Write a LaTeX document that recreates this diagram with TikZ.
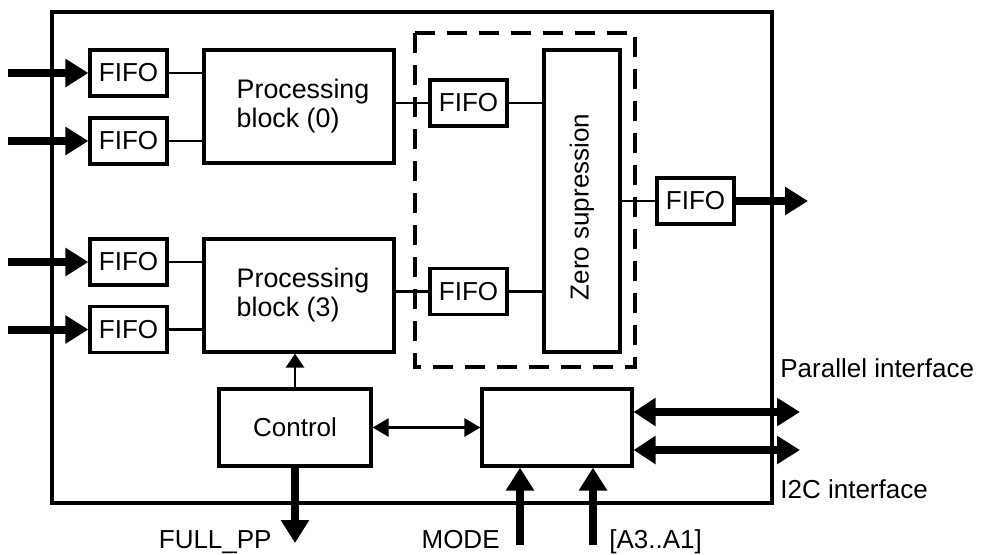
\documentclass[tikz,border=0pt]{standalone}
\usepackage{fontspec}
\setmainfont{Liberation Sans}
\usetikzlibrary{arrows.meta,positioning}

\begin{document}
\begin{tikzpicture}[x=0.5pt, y=-0.5pt]
\tikzset{box/.style={rectangle, draw, line width=1.6pt, inner sep=0pt, font=\fontsize{13}{15}\selectfont, align=center}}
\tikzset{fifo/.style={box, minimum width=38.5pt, minimum height=23pt}}
\tikzset{block/.style={box, minimum width=95pt, minimum height=56.5pt, align=left, font=\fontsize{13.4}{14.5}\selectfont}}
\tikzset{wire/.style={line width=1.3pt}}
\tikzset{arrow/.style={wire, -{Triangle[length=7pt, width=9pt]}}}
\tikzset{dblarrow/.style={wire, {Triangle[length=8pt, width=9pt]}-{Triangle[length=8pt, width=9pt]}}}
\tikzset{bus/.style={line width=4pt, -{Triangle[length=11.5pt, width=13.5pt]}}}
\tikzset{dblbus/.style={line width=4pt, {Triangle[length=11pt, width=13.5pt]}-{Triangle[length=11.5pt, width=13.5pt]}}}
\tikzset{iotext/.style={font=\fontsize{13}{15}\selectfont, inner sep=0pt}}

\useasboundingbox (0,0) rectangle (986,554);
\draw[line width=1.6pt] (52,12) rectangle (772,503);
\draw[line width=1.6pt, dash pattern=on 10pt off 6pt] (415,33) rectangle (635,367);

\node[fifo] (in0a) at (128.5,73) {FIFO};
\node[fifo] (in0b) at (128.5,141) {FIFO};
\node[fifo] (in3a) at (128.5,262) {FIFO};
\node[fifo] (in3b) at (128.5,329.5) {FIFO};
\node[block] (proc0) at (299,106.5) {\hspace{4pt}Processing\\\hspace{4pt}block (0)};
\node[block] (proc3) at (299,295.5) {\hspace{4pt}Processing\\\hspace{4pt}block (3)};
\node[fifo] (zin0) at (468.5,103) {FIFO};
\node[fifo] (zin3) at (468.5,291.5) {FIFO};
\node[box, minimum width=38pt, minimum height=151pt] (zero) at (582,201) {\rotatebox{90}{Zero supression\hspace{6pt}}};
\node[fifo] (out) at (695.5,201) {FIFO};
\node[box, minimum width=76pt, minimum height=38.5pt] (ctrl) at (295,427.5) {Control};
\node[box, minimum width=75pt, minimum height=38.5pt] (iface) at (557,427.5) {};

\foreach \f in {in0a,in0b,in3a,in3b} {
  \path (\f.west) ++(-80,0) coordinate (\f-src);
  \draw[bus] (\f-src) -- (\f.west);
}
\foreach \f/\p in {in0a/proc0,in0b/proc0,in3a/proc3,in3b/proc3}
  \draw[wire] (\f.east) -- (\f.east -| \p.west);

\draw[wire] (zin0.west -| proc0.east) -- (zin0.west);
\draw[wire] (zin3.west -| proc3.east) -- (zin3.west);
\draw[wire] (zin0.east) -- (zin0.east -| zero.west);
\draw[wire] (zin3.east) -- (zin3.east -| zero.west);
\draw[wire] (zero.east) -- (out.west);

\coordinate (dout) at (808,201);
\draw[bus] (out.east) -- (dout);

\draw[arrow] (ctrl.north) -- (ctrl.north |- proc3.south);
\draw[dblarrow] (ctrl) -- (iface);

\coordinate (fullpp) at (295,543);
\draw[bus] (ctrl.south) -- (fullpp);
\node[iotext, anchor=base east] (fullpplbl) at (272,548) {FULL\_PP};

\coordinate (mode) at (520,545);
\coordinate (addr) at (593,545);
\draw[bus] (mode) -- (mode |- iface.south);
\draw[bus] (addr) -- (addr |- iface.south);
\node[iotext, anchor=base east] (modelbl) at (500,548) {MODE};
\node[iotext, anchor=base west] (addrlbl) at (609,548) {[A3..A1]};

\coordinate (par) at (800,412);
\coordinate (i2c) at (800,450);
\draw[dblbus] (iface.east |- par) -- (par);
\draw[dblbus] (iface.east |- i2c) -- (i2c);
\node[iotext, anchor=base west] (parlbl) at (780,377) {Parallel interface};
\node[iotext, anchor=base west] (i2clbl) at (780,498) {I2C interface};
\end{tikzpicture}
\end{document}
